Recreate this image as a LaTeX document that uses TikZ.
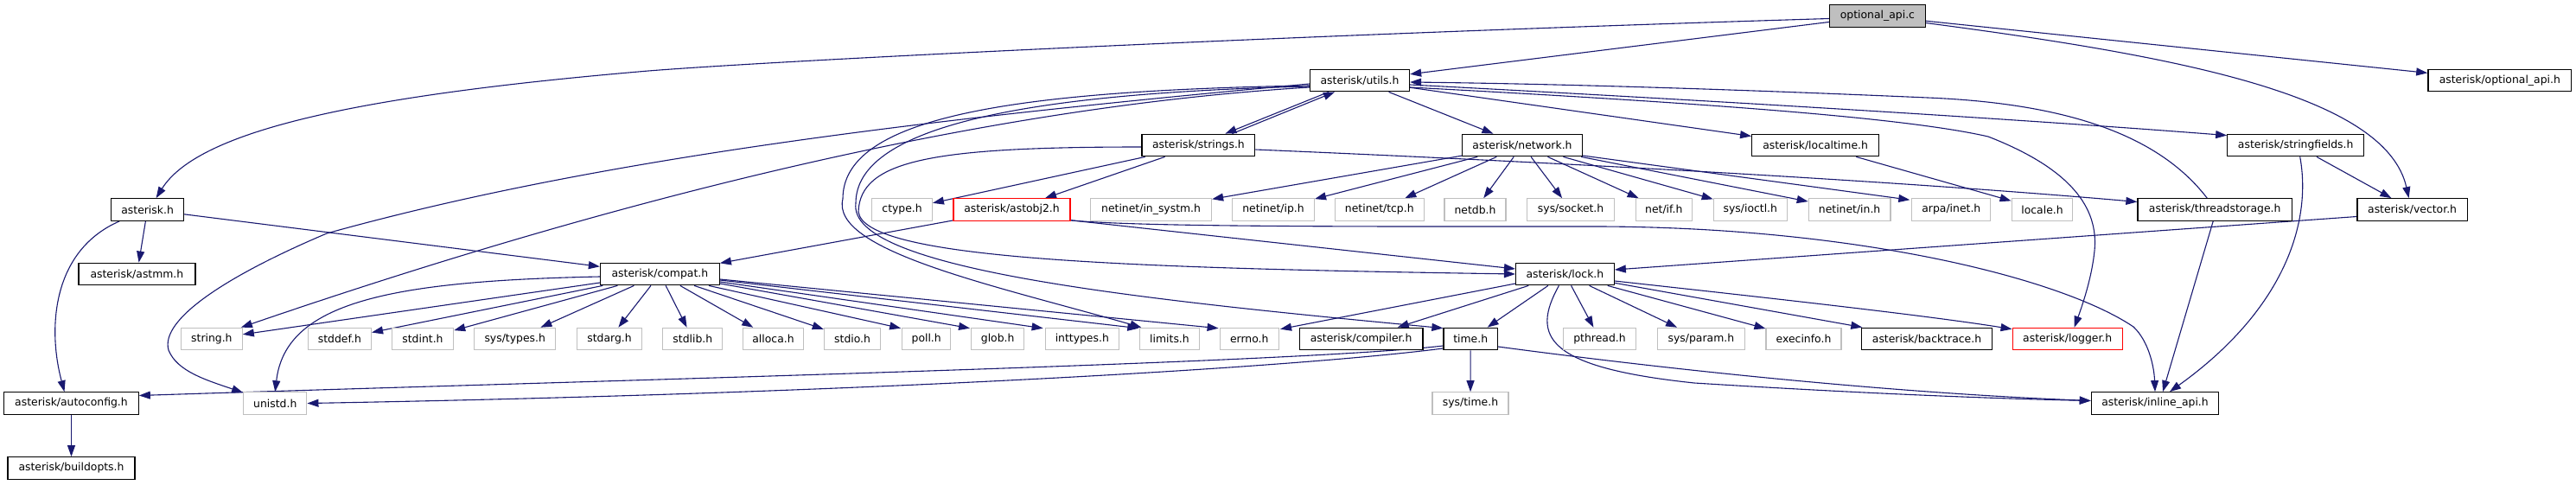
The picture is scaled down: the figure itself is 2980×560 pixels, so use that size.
\documentclass[tikz,border=0pt]{standalone}
\usepackage{fontspec}
\setmainfont{DejaVu Sans}
\usetikzlibrary{arrows.meta,calc,backgrounds}
\definecolor{edgec}{HTML}{191970}
\definecolor{sysgray}{HTML}{BFBFBF}
\tikzset{
  hdr/.style={draw=black, line width=1.3pt, fill=white, rectangle, inner sep=0pt,
    minimum height=25.5pt, font=\fontsize{12.4}{14}\selectfont, text=black},
  syshdr/.style={hdr, draw=sysgray, line width=1.1pt},
  trunc/.style={hdr, draw=red, line width=1.1pt},
  rootf/.style={hdr, fill=sysgray},
  dep/.style={draw=edgec, line width=1.1pt, -{Triangle[length=13pt,width=9pt]}},
}
\begin{document}
\begin{tikzpicture}[x=1pt,y=-1pt]
\useasboundingbox (0,0) rectangle (2980,560);
% ---------- nodes ----------
\node[rootf, minimum width=110.5] (optc) at (2171.9,18.5) {optional\_api.c};
\node[hdr, minimum width=115] (utils) at (1573,93) {asterisk/utils.h};
\node[hdr, minimum width=165.9] (optapi) at (2891.8,93) {asterisk/optional\_api.h};
\node[hdr, minimum width=130.6] (strings) at (1386.4,168) {asterisk/strings.h};
\node[hdr, minimum width=139] (network) at (1761,168) {asterisk/network.h};
\node[hdr, minimum width=146.8] (localtime) at (2100.1,168) {asterisk/localtime.h};
\node[hdr, minimum width=157.8] (stringfields) at (2655.7,168) {asterisk/stringfields.h};
\node[hdr, minimum width=83.7] (asterisk) at (170.6,242.5) {asterisk.h};
\node[syshdr, minimum width=69.6] (ctype) at (1043.6,242.5) {ctype.h};
\node[trunc, minimum width=135] (astobj2) at (1170.5,242.5) {asterisk/astobj2.h};
\node[syshdr, minimum width=140] (insystm) at (1331.6,242.5) {netinet/in\_systm.h};
\node[syshdr, minimum width=95] (ip) at (1473,242.5) {netinet/ip.h};
\node[syshdr, minimum width=102.5] (tcp) at (1595.8,242.5) {netinet/tcp.h};
\node[syshdr, minimum width=71] (netdb) at (1706.5,242.5) {netdb.h};
\node[syshdr, minimum width=101.2] (socket) at (1817.1,242.5) {sys/socket.h};
\node[syshdr, minimum width=65] (netif) at (1924.8,242.5) {net/if.h};
\node[syshdr, minimum width=85.2] (ioctl) at (2024.8,242.5) {sys/ioctl.h};
\node[syshdr, minimum width=94.7] (netin) at (2139.6,242.5) {netinet/in.h};
\node[syshdr, minimum width=90.9] (arpa) at (2257.3,242.5) {arpa/inet.h};
\node[syshdr, minimum width=70.8] (locale) at (2362.5,242.5) {locale.h};
\node[hdr, minimum width=178.4] (threadstorage) at (2562.2,242.5) {asterisk/threadstorage.h};
\node[hdr, minimum width=127.2] (vector) at (2790.6,242.5) {asterisk/vector.h};
\node[hdr, minimum width=134.9] (astmm) at (158.4,317) {asterisk/astmm.h};
\node[hdr, minimum width=137.8] (compat) at (763.4,317) {asterisk/compat.h};
\node[hdr, minimum width=113.6] (lock) at (1810.4,317) {asterisk/lock.h};
\node[syshdr, minimum width=70.8] (string) at (244.9,392) {string.h};
\node[syshdr, minimum width=73.2] (stddef) at (392.9,392) {stddef.h};
\node[syshdr, minimum width=71.3] (stdint) at (489,392) {stdint.h};
\node[syshdr, minimum width=94.2] (systypes) at (595.7,392) {sys/types.h};
\node[syshdr, minimum width=74.6] (stdarg) at (705,392) {stdarg.h};
\node[syshdr, minimum width=68.9] (stdlib) at (801.3,392) {stdlib.h};
\node[syshdr, minimum width=70.8] (alloca) at (894.5,392) {alloca.h};
\node[syshdr, minimum width=65.6] (stdio) at (986.1,392) {stdio.h};
\node[syshdr, minimum width=56] (poll) at (1071.7,392) {poll.h};
\node[syshdr, minimum width=61.2] (glob) at (1154.2,392) {glob.h};
\node[syshdr, minimum width=85.2] (inttypes) at (1251.8,392) {inttypes.h};
\node[syshdr, minimum width=68.3] (limits) at (1353,392) {limits.h};
\node[syshdr, minimum width=68.4] (errno) at (1445.3,392) {errno.h};
\node[hdr, minimum width=142.8] (compiler) at (1574.6,392) {asterisk/compiler.h};
\node[hdr, minimum width=62.4] (time) at (1701.2,392) {time.h};
\node[syshdr, minimum width=83.7] (pthread) at (1850.5,392) {pthread.h};
\node[syshdr, minimum width=101.4] (sysparam) at (1967.9,392) {sys/param.h};
\node[syshdr, minimum width=87] (execinfo) at (2086.5,392) {execinfo.h};
\node[hdr, minimum width=151.2] (backtrace) at (2229,392) {asterisk/backtrace.h};
\node[trunc, minimum width=127.2] (logger) at (2391.7,392) {asterisk/logger.h};
\node[hdr, minimum width=155.4] (autoconfig) at (82.5,466.5) {asterisk/autoconfig.h};
\node[syshdr, minimum width=73.2] (unistd) at (318.3,466.5) {unistd.h};
\node[syshdr, minimum width=88] (systime) at (1701,466.5) {sys/time.h};
\node[hdr, minimum width=147.3] (inline) at (2493,466.5) {asterisk/inline\_api.h};
\node[hdr, minimum width=146.8] (buildopts) at (82.5,541.5) {asterisk/buildopts.h};
% ---------- edges ----------
\begin{pgfonlayer}{background}
\fill[white] (0,0) rectangle (2980,560);
% optional_api.c
\draw[dep] ($(optc.west)+(0,3)$) .. controls (1500,40) and (900,70) .. (750,82)
  .. controls (420,110) and (230,150) .. ($(asterisk.north)+(10,0)$);
\draw[dep] (optc) -- (utils);
\draw[dep] (optc) -- (optapi);
\draw[dep] ($(optc.east)+(0,8)$) .. controls (2520,65) and (2760,110) .. ($(vector.north)+(-4,0)$);
% asterisk.h
\draw[dep] (asterisk) -- (astmm);
\draw[dep] ($(asterisk.south west)+(10,0)$) .. controls (60,290) and (55,380) .. ($(autoconfig.north)+(-8,0)$);
\draw[dep] (asterisk) -- (compat);
% utils.h
\draw[dep] ($(utils.south)+(-36,0)$) -- ($(strings.north)+(31,0)$);
\draw[dep] (utils) -- (network);
\draw[dep] (utils) -- (localtime);
\draw[dep] ($(utils.east)+(0,5)$) .. controls (1900,112) and (2300,135) .. ($(stringfields.north west)+(0,2)$);
\draw[dep] ($(utils.east)+(0,8)$) .. controls (1950,118) and (2200,135) .. (2300,158)
  .. controls (2395,195) and (2428,240) .. (2423,290)
  .. controls (2420,320) and (2410,350) .. ($(logger.north)+(8,0)$);
\draw[dep] ($(utils.west)+(0,8)$) .. controls (1200,120) and (800,200) .. ($(string.north east)+(-2,0)$);
\draw[dep] ($(utils.west)+(0,4)$) .. controls (1100,135) and (700,180) .. (378,270)
  .. controls (260,320) and (185,370) .. (195,405)
  .. controls (205,430) and (240,440) .. ($(unistd.north west)+(0,1)$);
\draw[dep] ($(utils.west)+(0,6)$) .. controls (1150,105) and (975,140) .. (975,230)
  .. controls (960,290) and (1150,330) .. ($(limits.north west)+(2,0)$);
\draw[dep] ($(utils.west)+(0,7)$) .. controls (1170,108) and (990,150) .. (990,235)
  .. controls (980,310) and (1300,345) .. ($(time.north west)+(0,1)$);
% strings.h
\draw[dep] ($(strings.north)+(39,0)$) -- ($(utils.south)+(-29,0)$);
\draw[dep] (strings) -- (ctype);
\draw[dep] (strings) -- (astobj2);
\draw[dep] ($(strings.east)+(0,5)$) .. controls (1900,192) and (2250,214) .. ($(threadstorage.west)+(0,-9)$);
\draw[dep] ($(strings.west)+(0,2)$) .. controls (1080,170) and (995,185) .. (993,245)
  .. controls (1000,300) and (1300,310) .. (lock.west);
% astobj2.h
\draw[dep] (astobj2) -- (compat);
\draw[dep] ($(astobj2.south east)+(0,-1)$) -- ($(lock.west)+(0,-6)$);
\draw[dep] ($(astobj2.south east)+(0,-1)$) .. controls (1320,263) and (1600,262) .. (1850,262)
  .. controls (2150,263) and (2385,322) .. (2468,378)
  .. controls (2486,395) and (2492,425) .. (inline.north);
% network.h
\foreach \tg in {insystm,ip,tcp,netdb,socket,netif,ioctl,netin}
  \draw[dep] (network) -- (\tg);
\draw[dep] ($(network.east)+(0,12)$) -- ($(arpa.north west)+(-2,2)$);
% localtime / stringfields / threadstorage / vector
\draw[dep] (localtime) -- (locale);
\draw[dep] (stringfields) -- (vector);
\draw[dep] ($(stringfields.south)+(5,0)$) .. controls (2675,260) and (2640,360) .. ($(inline.north)+(17,0)$);
\draw[dep] ($(threadstorage.north)+(-9,0)$) .. controls (2500,160) and (2400,120) .. (2230,113)
  .. controls (2000,103) and (1800,97) .. ($(utils.east)+(0,2)$);
\draw[dep] ($(threadstorage.south)+(-2,0)$) -- ($(inline.north)+(9,0)$);
\draw[dep] ($(vector.west)+(0,8)$) -- ($(lock.east)+(0,-5)$);
% compat.h
\foreach \tg in {string,stddef,stdint,systypes,stdarg,stdlib,alloca,stdio}
  \draw[dep] (compat) -- (\tg);
\draw[dep] ($(compat.south east)+(-13,0)$) -- ($(poll.north west)+(-1,1)$);
\draw[dep] ($(compat.east)+(0,11)$) -- ($(glob.north west)+(-1,1)$);
\draw[dep] ($(compat.east)+(0,9)$) -- ($(inttypes.north west)+(-2,1)$);
\draw[dep] ($(compat.east)+(0,7)$) -- ($(limits.north west)+(-1,1)$);
\draw[dep] ($(compat.east)+(0,6)$) -- ($(errno.north west)+(-1,1)$);
\draw[dep] ($(compat.west)+(0,3)$) .. controls (450,325) and (330,350) .. (unistd.north);
% lock.h
\draw[dep] ($(lock.west)+(0,11)$) -- ($(errno.north east)+(1,2)$);
\foreach \tg in {compiler,time,pthread,sysparam,execinfo,backtrace}
  \draw[dep] (lock) -- (\tg);
\draw[dep] ($(lock.east)+(0,8)$) .. controls (2050,345) and (2230,365) .. ($(logger.north west)+(0,2)$);
\draw[dep] ($(lock.south)+(-7,0)$) .. controls (1770,390) and (1790,425) .. (1960,443)
  .. controls (2200,458) and (2350,462) .. ($(inline.west)+(0,-3)$);
% time.h
\draw[dep] (time) -- (systime);
\draw[dep] ($(time.west)+(0,11)$) .. controls (1500,425) and (1000,455) .. (unistd.east);
\draw[dep] ($(time.west)+(0,8)$) .. controls (1500,420) and (700,440) .. ($(autoconfig.east)+(0,-9)$);
\draw[dep] ($(time.east)+(0,9)$) .. controls (1950,430) and (2200,455) .. ($(inline.west)+(0,-3)$);
% autoconfig.h
\draw[dep] (autoconfig) -- (buildopts);
\end{pgfonlayer}
\end{tikzpicture}
\end{document}
